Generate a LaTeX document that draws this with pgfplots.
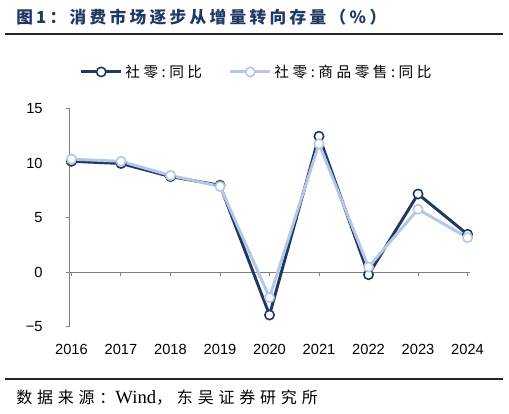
\documentclass[border=0pt]{standalone}
\usepackage{fontspec}
\setmainfont{Liberation Sans}
\newfontfamily\cjk[LetterSpace=24]{Noto Sans CJK SC}
\newfontfamily\cjks[LetterSpace=30]{Noto Sans CJK SC}
\newfontfamily\cjkt[LetterSpace=20]{Noto Sans CJK SC}
\newfontfamily\lserif{Liberation Serif}
\usepackage{pgfplots}
\pgfplotsset{compat=1.18}

\definecolor{navy}{HTML}{203864}
\definecolor{lightblue}{HTML}{B4C7E7}
\definecolor{axisgray}{HTML}{7F7F7F}

% years at 0..8 (2016..2024)
\pgfplotstableread{
x  total  goods
0  10.2   10.4
1  10.0   10.2
2  8.8    8.9
3  8.0    7.9
4  -3.9   -2.3
5  12.5   11.8
6  -0.2   0.5
7  7.2    5.8
8  3.5    3.2
}\retail

\begin{document}
\begin{tikzpicture}
% page frame: 509x413 px at 0.75pt per px, axis corner at px (70,327)
\path[use as bounding box] (-52.5pt,-64.5pt) rectangle (329.25pt,245.25pt);

\node[anchor=west,inner sep=0pt,text=navy,font=\cjkt\bfseries\fontsize{12.5}{14}\selectfont]
  at (-40.5pt,232.5pt) {图1：消费市场逐步从增量转向存量（\%）};
\draw[line width=1.5pt,black!85] (-48.75pt,220.1pt) -- (324.75pt,220.1pt);
\draw[line width=1.5pt,black!85] (-48.75pt,-39pt) -- (324.75pt,-39pt);
\node[anchor=west,inner sep=0pt,font=\cjks\fontsize{12}{14}\selectfont]
  at (-40.5pt,-53.25pt) {数据来源：{\lserif\fontsize{14}{16}\selectfont Wind}，东吴证券研究所};

\begin{axis}[
  at={(0pt,0pt)}, anchor=south west,
  width=300pt, height=163.5pt, scale only axis,
  xmin=-0.03, xmax=8.05,
  ymin=-5, ymax=15,
  axis x line*=middle, axis y line*=left,
  hide obscured x ticks=false, hide obscured y ticks=false,
  axis line style={axisgray, line width=0.75pt},
  tick style={axisgray, line width=0.75pt},
  tick align=outside,
  major tick length=3pt,
  xtick={0,...,8},
  xticklabels={2016,2017,2018,2019,2020,2021,2022,2023,2024},
  ytick={-5,0,5,10,15},
  yticklabels={−5,0,5,10,15},
  tick label style={font=\fontsize{11}{13}\selectfont},
  xticklabel style={yshift=-47pt},
  yticklabel style={xshift=-14pt},
  legend columns=2,
  legend style={at={(0.4675,1.17)}, anchor=center, draw=none, fill=none,
    font=\cjk\fontsize{11}{12}\selectfont,
    /tikz/every even column/.append style={column sep=18pt}},
  legend image code/.code={
    \draw[mark repeat=2,mark phase=2] plot coordinates {(0pt,0pt) (15pt,0pt) (30pt,0pt)};},
  clip=false,
]
\addplot[navy, line width=2.2pt, mark=*, mark size=3.5pt,
  mark options={fill=white, draw=navy, line width=1.2pt}]
  table[x=x, y=total] {\retail};
\addlegendentry{社零:同比}
\addplot[lightblue, line width=2.2pt, mark=*, mark size=3.5pt,
  mark options={fill=white, draw=lightblue, line width=1.2pt}]
  table[x=x, y=goods] {\retail};
\addlegendentry{社零:商品零售:同比}
\end{axis}
\end{tikzpicture}
\end{document}
